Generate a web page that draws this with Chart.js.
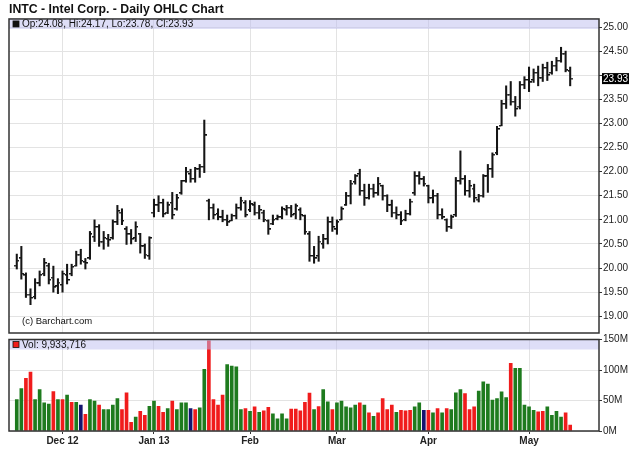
<!DOCTYPE html>
<html>
<head>
<meta charset="utf-8">
<script src="https://cdn.jsdelivr.net/npm/chart.js@4.4.0/dist/chart.umd.min.js"></script>
<style>
  html, body { margin: 0; padding: 0; background: #fff; }
  #wrap { position: relative; width: 640px; height: 468px; }
  #price { position: absolute; left: 0; top: 0; }
  #vol { position: absolute; left: 0; top: 330px; }
</style>
</head>
<body>
<div id="wrap">
  <canvas id="price" width="640" height="340"></canvas>
  <canvas id="vol" width="640" height="138"></canvas>
</div>
<script>
// daily bars, Nov 16 2012 .. May 14 2013 (index = trading day)
const opens = [
  20.05, 20.20, 19.85, 19.45, 19.40, 19.68, 19.88, 20.05, 19.80, 19.62,
  19.65, 19.85, 19.88, 20.05, 20.28, 20.12, 20.20, 20.65, 20.85, 20.55,
  20.60, 20.62, 20.95, 21.15, 20.80, 20.70, 20.62, 20.70, 20.45, 20.25,
  21.15, 21.30, 21.35, 21.15, 21.35, 21.22, 21.55, 21.80, 21.95, 21.85,
  22.05, 22.10, 21.40, 21.25, 21.12, 21.05, 21.00, 20.98, 21.08, 21.25,
  21.35, 21.20, 21.30, 21.15, 21.15, 20.98, 20.92, 21.02, 21.05, 21.20,
  21.25, 21.12, 21.20, 21.08, 20.70, 20.25, 20.25, 20.50, 20.60, 20.95,
  20.80, 21.00, 21.30, 21.50, 21.78, 21.95, 21.60, 21.45, 21.65, 21.55,
  21.70, 21.50, 21.30, 21.15, 21.10, 21.00, 21.12, 21.55, 21.90, 21.84,
  21.70, 21.45, 21.50, 21.10, 21.00, 20.85, 21.10, 21.80, 21.85, 21.60,
  21.65, 21.42, 21.50, 21.90, 22.05, 22.38, 22.95, 23.40, 23.60, 23.45,
  23.35, 23.80, 23.90, 23.90, 24.05, 23.95, 24.15, 24.05, 24.20, 24.30,
  24.45, 24.08
];
const highs = [
  20.29, 20.45, 19.90, 19.57, 19.78, 19.94, 20.20, 20.10, 20.04, 19.78,
  19.94, 20.08, 20.08, 20.35, 20.39, 20.20, 20.76, 21.00, 20.90, 20.76,
  20.70, 21.00, 21.30, 21.23, 20.86, 20.80, 20.96, 20.72, 20.50, 20.65,
  21.43, 21.50, 21.43, 21.37, 21.57, 21.53, 21.82, 22.09, 22.05, 22.09,
  22.15, 23.07, 21.43, 21.33, 21.23, 21.20, 21.10, 21.12, 21.33, 21.47,
  21.40, 21.40, 21.37, 21.30, 21.20, 21.00, 21.10, 21.10, 21.27, 21.30,
  21.30, 21.33, 21.25, 21.10, 20.76, 20.45, 20.66, 20.70, 21.06, 21.06,
  21.00, 21.27, 21.57, 21.82, 21.94, 22.05, 21.74, 21.74, 21.74, 21.88,
  21.72, 21.52, 21.41, 21.27, 21.17, 21.20, 21.43, 22.00, 22.00, 21.90,
  21.72, 21.62, 21.55, 21.23, 21.02, 21.10, 21.88, 22.43, 21.92, 21.82,
  21.74, 21.53, 21.94, 22.15, 22.39, 22.94, 23.48, 23.78, 23.87, 23.56,
  23.87, 23.97, 24.17, 24.13, 24.19, 24.23, 24.27, 24.29, 24.37, 24.58,
  24.50, 24.17
];
const lows = [
  19.98, 19.77, 19.39, 19.24, 19.36, 19.63, 19.84, 19.67, 19.50, 19.47,
  19.50, 19.67, 19.84, 20.04, 20.08, 19.98, 20.18, 20.55, 20.45, 20.39,
  20.45, 20.60, 20.90, 20.90, 20.49, 20.50, 20.55, 20.31, 20.20, 20.18,
  21.06, 21.17, 21.06, 21.13, 21.02, 21.20, 21.53, 21.78, 21.78, 21.78,
  21.88, 21.98, 21.00, 21.02, 21.00, 20.96, 20.88, 20.98, 21.02, 21.20,
  21.06, 21.17, 21.10, 21.02, 20.96, 20.70, 20.90, 21.00, 21.02, 21.10,
  21.06, 21.02, 21.00, 20.70, 20.14, 20.10, 20.14, 20.41, 20.50, 20.76,
  20.70, 21.00, 21.30, 21.33, 21.74, 21.51, 21.30, 21.43, 21.47, 21.51,
  21.41, 21.17, 21.06, 21.02, 20.90, 20.98, 21.10, 21.51, 21.74, 21.70,
  21.35, 21.35, 21.02, 21.02, 20.76, 20.82, 21.07, 21.74, 21.51, 21.47,
  21.37, 21.37, 21.47, 21.57, 21.88, 22.35, 22.95, 23.31, 23.38, 23.15,
  23.30, 23.72, 23.66, 23.85, 23.78, 23.87, 23.89, 24.02, 24.09, 24.27,
  24.07, 23.78
];
const closes = [
  20.15, 19.88, 19.45, 19.38, 19.70, 19.85, 20.10, 19.75, 19.60, 19.70,
  19.88, 19.75, 20.02, 20.28, 20.15, 20.10, 20.70, 20.85, 20.55, 20.62,
  20.58, 20.95, 21.18, 20.98, 20.70, 20.60, 20.85, 20.45, 20.28, 20.62,
  21.30, 21.35, 21.12, 21.30, 21.10, 21.45, 21.80, 22.00, 21.85, 22.05,
  22.10, 22.75, 21.25, 21.10, 21.05, 21.00, 20.95, 21.08, 21.25, 21.40,
  21.10, 21.32, 21.15, 21.20, 21.00, 20.80, 21.00, 21.05, 21.22, 21.25,
  21.10, 21.28, 21.10, 20.75, 20.25, 20.20, 20.55, 20.60, 20.95, 20.85,
  20.95, 21.22, 21.50, 21.75, 21.90, 21.60, 21.45, 21.65, 21.55, 21.75,
  21.50, 21.30, 21.15, 21.10, 20.98, 21.12, 21.38, 21.90, 21.84, 21.75,
  21.45, 21.50, 21.10, 21.05, 20.85, 21.05, 21.80, 21.85, 21.60, 21.70,
  21.45, 21.50, 21.90, 22.05, 22.35, 22.88, 23.40, 23.60, 23.45, 23.30,
  23.80, 23.90, 23.85, 24.05, 23.95, 24.15, 24.00, 24.20, 24.30, 24.45,
  24.10, 23.93
];
// volume in millions of shares, and how the bar is coloured (u = up, d = down, n = unchanged)
const volumes = [
  51.6, 69.7, 86.2, 96.6, 51.6, 68.0, 46.0, 44.0, 64.8, 51.6,
  51.6, 58.7, 47.2, 47.2, 42.3, 27.5, 51.6, 48.9, 42.3, 35.1,
  35.1, 42.3, 53.3, 35.1, 62.6, 14.3, 23.0, 32.4, 25.8, 40.6,
  48.9, 40.6, 30.7, 36.8, 48.9, 35.1, 46.1, 46.1, 36.8, 35.1,
  37.9, 101.0, 148.0, 51.6, 42.3, 58.7, 109.0, 106.5, 105.4, 35.1,
  36.8, 32.4, 39.5, 30.7, 33.0, 39.0, 28.0, 20.0, 28.0, 20.0,
  36.0, 36.0, 33.0, 47.0, 62.0, 35.0, 40.0, 68.0, 47.8, 35.1,
  46.1, 48.9, 39.5, 37.9, 42.3, 46.1, 42.3, 29.6, 24.2, 29.6,
  53.3, 35.1, 42.3, 30.7, 34.0, 33.0, 34.0, 39.5, 46.1, 34.0,
  34.0, 29.6, 36.8, 29.6, 36.8, 35.1, 62.6, 68.0, 61.5, 35.1,
  39.5, 65.3, 80.7, 76.9, 50.5, 53.3, 64.2, 54.9, 110.9, 102.7,
  102.7, 42.3, 39.5, 34.0, 31.3, 32.4, 39.5, 25.8, 32.4, 23.0,
  29.6, 9.9
];
const volDir = [
  'u','u','d','d','u','u','u','u','d','u',
  'd','u','d','u','n','d','u','u','d','u',
  'u','u','u','d','d','d','u','d','d','u',
  'u','d','d','u','d','u','u','u','n','d',
  'u','u','d','d','d','d','u','u','u','u',
  'd','u','d','u','d','d','u','u','u','u',
  'd','d','d','d','d','u','d','u','u','d',
  'u','u','u','u','u','d','u','d','u','d',
  'd','d','d','u','d','d','d','u','u','n',
  'd','u','d','u','d','u','u','u','d','d',
  'd','u','u','u','u','u','u','u','d','u',
  'u','u','u','u','d','d','u','u','u','u',
  'd','d'
];
const lastVolume = 9933716;

const monthTickIdx = [10, 30, 51, 70, 90, 112];
const monthLabels = ['Dec 12', 'Jan 13', 'Feb', 'Mar', 'Apr', 'May'];
const priceTicks = [19, 19.5, 20, 20.5, 21, 21.5, 22, 22.5, 23, 23.5, 24, 24.5, 25];
const volTicks = [0, 50, 100, 150];

const FONT = '"Liberation Sans", Arial, Helvetica, sans-serif';
Chart.defaults.font.family = FONT;
Chart.defaults.color = '#222';

const volColors = { u: '#1e7b1e', d: '#f01c1c', n: '#141470' };
const last = closes.length - 1;

// small horizontal stub used as point style for open (left) and close (right)
function tickImage(side) {
  const c = document.createElement('canvas');
  c.width = 5; c.height = 2;
  const g = c.getContext('2d');
  const x0 = side < 0 ? 0 : 3;
  g.fillStyle = 'rgba(20,20,20,1)';
  g.fillRect(x0, 0, 2, 1);
  g.fillStyle = 'rgba(20,20,20,0.45)';
  g.fillRect(x0, 1, 2, 1);
  return c;
}

// legend band, frame and small texts of a panel
const panelDecor = {
  id: 'panelDecor',
  afterDatasetsDraw(chart, args, opts) {
    const {ctx, chartArea: a} = chart;
    ctx.save();
    ctx.fillStyle = 'rgba(190,190,240,0.5)';
    ctx.fillRect(a.left, a.top, a.right - a.left, 10);
    ctx.fillStyle = opts.marker;
    ctx.fillRect(a.left + 4, a.top + 2, 6, 6);
    ctx.strokeStyle = '#111';
    ctx.lineWidth = 0.8;
    ctx.strokeRect(a.left + 4, a.top + 2, 6, 6);
    ctx.fillStyle = '#111';
    ctx.font = '10px ' + FONT;
    ctx.textBaseline = 'middle';
    ctx.fillText(opts.text, a.left + 13, a.top + 5.5);
    if (opts.note) {
      ctx.font = '9.5px ' + FONT;
      ctx.fillText(opts.note, a.left + 13, a.bottom - 12);
    }
    ctx.strokeStyle = '#333';
    ctx.lineWidth = 1.5;
    ctx.strokeRect(a.left, a.top, a.right - a.left, a.bottom - a.top);
    ctx.restore();
  },
  afterDraw(chart, args, opts) {
    if (!opts.lastValue) return;
    const {ctx} = chart;
    const y = chart.scales.y.getPixelForValue(opts.lastValue);
    const x = chart.chartArea.right + 3;
    ctx.save();
    ctx.fillStyle = '#000';
    ctx.fillRect(x, y - 5.5, 27, 11);
    ctx.fillStyle = '#fff';
    ctx.font = '10px ' + FONT;
    ctx.textBaseline = 'middle';
    ctx.fillText(opts.lastValue.toFixed(2), x + 1, y + 0.5);
    ctx.restore();
  }
};

const xCommon = {
  type: 'linear',
  min: -1.7,
  max: 127.3,
  offset: false,
  afterBuildTicks: s => { s.ticks = monthTickIdx.map(v => ({value: v})); },
};

new Chart(document.getElementById('price'), {
  type: 'bar',
  data: {
    datasets: [
      {
        type: 'bar',
        data: highs.map((h, i) => ({x: i, y: [lows[i], h]})),
        backgroundColor: '#151515',
        barThickness: 1.4,
        borderWidth: 0
      },
      {
        type: 'line',
        data: opens.map((o, i) => ({x: i, y: o})),
        showLine: false,
        pointStyle: tickImage(-1),
        pointRadius: 2,
        pointHoverRadius: 2
      },
      {
        type: 'line',
        data: closes.map((c, i) => ({x: i, y: c})),
        showLine: false,
        pointStyle: tickImage(1),
        pointRadius: 2,
        pointHoverRadius: 2
      }
    ]
  },
  options: {
    responsive: false,
    animation: false,
    events: [],
    layout: { padding: { left: 9, right: 0, top: 0, bottom: 2 } },
    plugins: {
      legend: { display: false },
      tooltip: { enabled: false },
      title: {
        display: true,
        text: 'INTC - Intel Corp. - Daily OHLC Chart',
        align: 'start',
        color: '#111',
        font: { family: FONT, size: 12.3, weight: 'bold' },
        padding: { top: 2.5, bottom: 1.7 }
      },
      panelDecor: {
        marker: '#111',
        text: 'Op:' + opens[last].toFixed(2) + ', Hi:' + highs[last].toFixed(2) +
              ', Lo:' + lows[last].toFixed(2) + ', Cl:' + closes[last].toFixed(2),
        note: '(c) Barchart.com',
        lastValue: closes[last]
      }
    },
    scales: {
      x: Object.assign({}, xCommon, {
        ticks: { display: false },
        grid: { color: '#e3e3e3', drawTicks: false, offset: false },
        border: { display: false },
        afterFit: s => { s.height = 0; }
      }),
      y: {
        position: 'right',
        min: 18.653,
        max: 25.167,
        afterBuildTicks: s => { s.ticks = priceTicks.map(v => ({value: v})); },
        afterFit: s => { s.width = 41; },
        ticks: {
          padding: 1,
          font: { size: 10 },
          color: '#222',
          callback: v => Math.abs(v - closes[last]) < 0.12 ? '' : v.toFixed(2)
        },
        grid: { color: '#e3e3e3', tickColor: '#333', tickLength: 3 },
        border: { display: false }
      }
    }
  },
  plugins: [panelDecor]
});

new Chart(document.getElementById('vol'), {
  type: 'bar',
  data: {
    datasets: [{
      data: volumes.map((v, i) => ({x: i, y: v})),
      backgroundColor: volDir.map(d => volColors[d]),
      barThickness: 3,
      borderWidth: 0
    }]
  },
  options: {
    responsive: false,
    animation: false,
    events: [],
    layout: { padding: { left: 9, right: 0, top: 9.5, bottom: 0 } },
    plugins: {
      legend: { display: false },
      tooltip: { enabled: false },
      panelDecor: {
        marker: '#f01c1c',
        text: 'Vol: ' + lastVolume.toLocaleString('en-US')
      }
    },
    scales: {
      x: Object.assign({}, xCommon, {
        ticks: {
          autoSkip: false,
          maxRotation: 0,
          padding: 1,
          color: '#222',
          font: { size: 10, weight: 'bold' },
          callback: v => monthLabels[monthTickIdx.indexOf(v)] || ''
        },
        grid: { color: '#e3e3e3', tickColor: '#333', tickLength: 3, offset: false },
        border: { display: false },
        afterFit: s => { s.height = 37; }
      }),
      y: {
        position: 'right',
        min: 0,
        max: 150,
        afterBuildTicks: s => { s.ticks = volTicks.map(v => ({value: v})); },
        afterFit: s => { s.width = 41; },
        ticks: {
          padding: 1,
          font: { size: 10 },
          color: '#222',
          callback: v => v + 'M'
        },
        grid: { color: '#e3e3e3', tickColor: '#333', tickLength: 3 },
        border: { display: false }
      }
    }
  },
  plugins: [panelDecor]
});
</script>
</body>
</html>
